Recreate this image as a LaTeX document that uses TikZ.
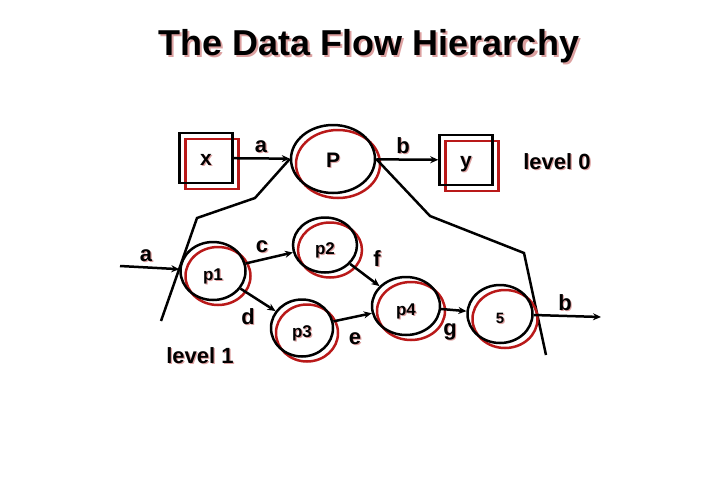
\documentclass[tikz,border=0pt]{standalone}
\usepackage{fontspec}
\setmainfont{Liberation Sans}
\usepackage{tikz}
\usetikzlibrary{arrows.meta,shapes.geometric}
\definecolor{dfred}{RGB}{185,25,25}
\definecolor{dfpink}{RGB}{220,160,160}
\newcommand{\shd}[2][1.2pt]{\makebox[0pt][l]{\kern#1\raisebox{-#1}{\textcolor{dfpink}{#2}}}#2}

\begin{document}
\begin{tikzpicture}[x=1pt,y=-1pt,>={Stealth[length=8pt,width=7pt]},line width=2.5pt,
  term/.style={draw,minimum width=53pt,minimum height=50pt,inner sep=0pt,
               text height=15pt,text depth=0pt,
               preaction={draw=dfred,transform canvas={shift={(6pt,-6pt)}}},
               font=\bfseries\fontsize{21}{21}\selectfont},
  proc/.style={ellipse,draw,inner sep=0pt,text height=18pt,text depth=0pt,
               preaction={draw=dfred,transform canvas={shift={(5pt,-5pt)}}},
               font=\bfseries\fontsize{17}{17}\selectfont},
  lbl/.style={inner sep=0pt,font=\bfseries\fontsize{22}{22}\selectfont}]
\useasboundingbox (0,0) rectangle (720,480);
\node[inner sep=0pt,font=\bfseries\fontsize{36}{36}\selectfont] (title) at (369,47) {\shd[2pt]{The Data Flow Hierarchy}};
% level 0
\node[term] (x) at (206,158) {\shd{x}};
\node[proc,minimum width=84pt,minimum height=68pt,text height=16pt,
      font=\bfseries\fontsize{21}{21}\selectfont] (P) at (333,159) {\shd{P}};
\node[term] (y) at (466,160) {\shd{y}};
\draw[->] (x) -- (P); \draw[->] (P) -- (y);
\node[lbl] (la0) at (261,147) {\shd{a}};
\node[lbl] (lb0) at (403,146) {\shd{b}};
\node[lbl] (lev0) at (557,162) {\shd{level 0}};
% expansion of P
\coordinate (lb1) at (255,198); \coordinate (lb2) at (197,218); \coordinate (lb3) at (161,321);
\coordinate (rb1) at (430,216); \coordinate (rb2) at (524,253); \coordinate (rb3) at (546,355);
\draw (P.west) -- (lb1) -- (lb2) -- (lb3);
\draw (P.east) -- (rb1) -- (rb2) -- (rb3);
% level 1
\node[proc,minimum width=65pt,minimum height=58pt] (p1) at (213,271) {\shd{p1}};
\node[proc,minimum width=64pt,minimum height=55pt] (p2) at (325,245) {\shd{p2}};
\node[proc,minimum width=62pt,minimum height=57pt] (p3) at (302,328) {\shd{p3}};
\node[proc,minimum width=68pt,minimum height=58pt] (p4) at (406,306) {\shd{p4}};
\node[proc,minimum width=65pt,minimum height=58pt,font=\bfseries\fontsize{15}{15}\selectfont] (p5) at (500,314) {\shd{5}};
\coordinate (ain) at (120,266); \coordinate (bout) at (601,317);
\draw[->] (ain) -- (p1);
\draw[->] (p1) -- (p2); \draw[->] (p1) -- (p3);
\draw[->] (p2) -- (p4); \draw[->] (p3) -- (p4);
\draw[->] (p4) -- (p5); \draw[->] (p5) -- (bout);
\node[lbl] (la1) at (146,256) {\shd{a}};
\node[lbl] (lc) at (262,247) {\shd{c}};
\node[lbl] (ld) at (248,317) {\shd{d}};
\node[lbl] (le) at (355,339) {\shd{e}};
\node[lbl] (lf) at (377,259) {\shd{f}};
\node[lbl] (lg) at (450,332) {\shd{g}};
\node[lbl] (lb1) at (565,303) {\shd{b}};
\node[lbl] (lev1) at (200,356) {\shd{level 1}};
\end{tikzpicture}
\end{document}
